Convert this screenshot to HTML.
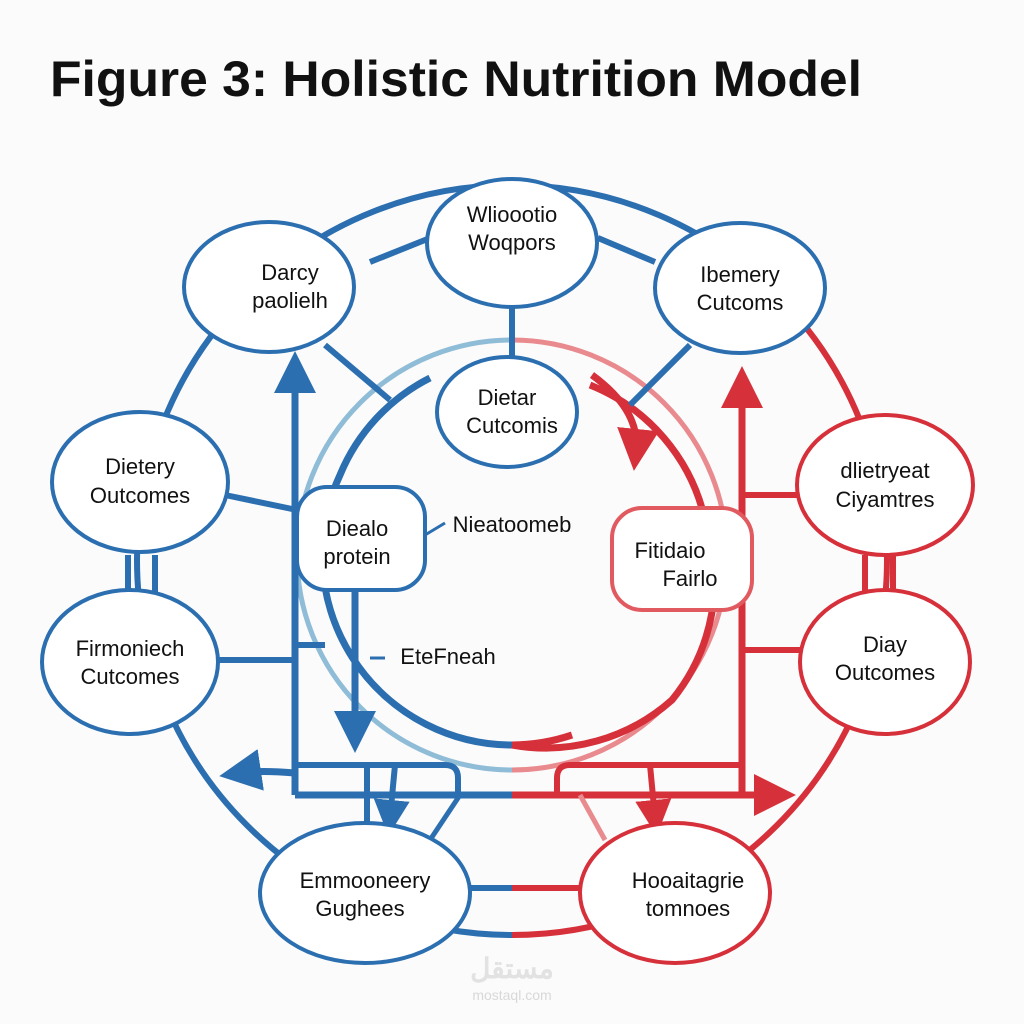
<!DOCTYPE html>
<html><head><meta charset="utf-8"><style>
html,body{margin:0;padding:0;background:#fbfbfb;}
svg{display:block;}
text{font-family:"Liberation Sans",sans-serif;fill:#111;}
</style></head><body>
<svg width="1024" height="1024" viewBox="0 0 1024 1024">
<rect width="1024" height="1024" fill="#fbfbfb"/>
<text x="50" y="96" font-size="50" font-weight="bold" textLength="812" lengthAdjust="spacingAndGlyphs">Figure 3: Holistic Nutrition Model</text>
<defs>
<marker id="ab" markerWidth="6" markerHeight="6" refX="3" refY="3" orient="auto" markerUnits="strokeWidth"><path d="M0,0 L6,3 L0,6z" fill="#2c6fb0"/></marker>
<marker id="ar" markerWidth="6" markerHeight="6" refX="3" refY="3" orient="auto" markerUnits="strokeWidth"><path d="M0,0 L6,3 L0,6z" fill="#d6303a"/></marker>
</defs>
<g fill="none" stroke-width="6">
<path d="M512,935 A375,375 0 0 1 137,560 A375,375 0 0 1 512,185 A375,375 0 0 1 782,300" stroke="#2c6fb0"/>
<path d="M782,300 A375,375 0 0 1 887,560 A375,375 0 0 1 512,935" stroke="#d6303a"/>
<path d="M512,770 A215,215 0 0 1 512,340" stroke="#8fbcd6" stroke-width="5"/>
<path d="M512,340 A215,215 0 0 1 512,770" stroke="#e98a8e" stroke-width="5"/>
<path d="M512,745 A190,190 0 0 1 340,475 A190,190 0 0 1 430,378" stroke="#2c6fb0" stroke-width="7"/>
<path d="M512,745 A190,190 0 0 0 572,735" stroke="#d6303a" stroke-width="7"/>
<path d="M512,745 A190,190 0 0 0 672,700 A190,190 0 0 0 705,520 A190,190 0 0 0 590,385" stroke="#d6303a" stroke-width="7"/>
<path d="M592,375 Q640,410 636,450" stroke="#d6303a" stroke-width="7" marker-end="url(#ar)"/>
<line x1="512" y1="305" x2="512" y2="358" stroke="#2c6fb0"/>
<line x1="325" y1="345" x2="390" y2="400" stroke="#2c6fb0"/>
<line x1="690" y1="345" x2="630" y2="405" stroke="#2c6fb0"/>
<line x1="370" y1="262" x2="430" y2="238" stroke="#2c6fb0"/>
<line x1="598" y1="238" x2="655" y2="262" stroke="#2c6fb0"/>
<line x1="225" y1="495" x2="297" y2="510" stroke="#2c6fb0"/>
<line x1="215" y1="660" x2="297" y2="660" stroke="#2c6fb0"/>
<line x1="297" y1="645" x2="325" y2="645" stroke="#2c6fb0"/>
<line x1="128" y1="555" x2="128" y2="595" stroke="#2c6fb0"/>
<line x1="155" y1="555" x2="155" y2="595" stroke="#2c6fb0"/>
<line x1="742" y1="495" x2="800" y2="495" stroke="#d6303a"/>
<line x1="742" y1="650" x2="800" y2="650" stroke="#d6303a"/>
<line x1="865" y1="555" x2="865" y2="595" stroke="#d6303a"/>
<line x1="893" y1="555" x2="893" y2="595" stroke="#d6303a"/>
<line x1="470" y1="888" x2="512" y2="888" stroke="#2c6fb0"/>
<line x1="512" y1="888" x2="582" y2="888" stroke="#d6303a"/>
<line x1="425" y1="535" x2="445" y2="523" stroke="#2c6fb0" stroke-width="3"/>
<line x1="370" y1="658" x2="385" y2="658" stroke="#2c6fb0" stroke-width="3"/>
<line x1="295" y1="795" x2="295" y2="372" stroke="#2c6fb0" stroke-width="7" marker-end="url(#ab)"/>
<line x1="742" y1="795" x2="742" y2="387" stroke="#d6303a" stroke-width="7" marker-end="url(#ar)"/>
<line x1="355" y1="590" x2="355" y2="732" stroke="#2c6fb0" stroke-width="7" marker-end="url(#ab)"/>
<line x1="295" y1="795" x2="512" y2="795" stroke="#2c6fb0" stroke-width="7"/>
<line x1="512" y1="795" x2="775" y2="795" stroke="#d6303a" stroke-width="7" marker-end="url(#ar)"/>
<path d="M295,765 H445 Q458,765 458,778 V795" stroke="#2c6fb0" stroke-width="6"/>
<path d="M742,765 H570 Q557,765 557,778 V795" stroke="#d6303a" stroke-width="6"/>
<path d="M295,773 Q260,770 240,773" stroke="#2c6fb0" stroke-width="7" marker-end="url(#ab)"/>
<line x1="367" y1="765" x2="367" y2="830" stroke="#2c6fb0" stroke-width="6"/>
<line x1="395" y1="765" x2="390" y2="818" stroke="#2c6fb0" stroke-width="6" marker-end="url(#ab)"/>
<line x1="650" y1="765" x2="655" y2="818" stroke="#d6303a" stroke-width="6" marker-end="url(#ar)"/>
<line x1="430" y1="840" x2="460" y2="795" stroke="#2c6fb0" stroke-width="5"/>
<line x1="605" y1="840" x2="580" y2="795" stroke="#e98a8e" stroke-width="5"/>
</g>
<g stroke-width="4" fill="#fff">
<ellipse cx="512" cy="243" rx="85" ry="64" stroke="#2c6fb0"/>
<ellipse cx="269" cy="287" rx="85" ry="65" stroke="#2c6fb0"/>
<ellipse cx="740" cy="288" rx="85" ry="65" stroke="#2c6fb0"/>
<ellipse cx="507" cy="412" rx="70" ry="55" stroke="#2c6fb0"/>
<ellipse cx="140" cy="482" rx="88" ry="70" stroke="#2c6fb0"/>
<ellipse cx="130" cy="662" rx="88" ry="72" stroke="#2c6fb0"/>
<ellipse cx="885" cy="485" rx="88" ry="70" stroke="#d6303a"/>
<ellipse cx="885" cy="662" rx="85" ry="72" stroke="#d6303a"/>
<ellipse cx="365" cy="893" rx="105" ry="70" stroke="#2c6fb0"/>
<ellipse cx="675" cy="893" rx="95" ry="70" stroke="#d6303a"/>
<rect x="297" y="487" width="128" height="103" rx="30" stroke="#2c6fb0"/>
<rect x="612" y="508" width="140" height="102" rx="30" stroke="#e05a60"/>
</g>
<g font-size="22" text-anchor="middle">
<text x="512" y="222">Wlioootio</text><text x="512" y="250">Woqpors</text>
<text x="290" y="280">Darcy</text><text x="290" y="308">paolielh</text>
<text x="740" y="282">Ibemery</text><text x="740" y="310">Cutcoms</text>
<text x="507" y="405">Dietar</text><text x="512" y="433">Cutcomis</text>
<text x="140" y="474">Dietery</text><text x="140" y="503">Outcomes</text>
<text x="130" y="656">Firmoniech</text><text x="130" y="684">Cutcomes</text>
<text x="885" y="478">dlietryeat</text><text x="885" y="507">Ciyamtres</text>
<text x="885" y="652">Diay</text><text x="885" y="680">Outcomes</text>
<text x="365" y="888">Emmooneery</text><text x="360" y="916">Gughees</text>
<text x="688" y="888">Hooaitagrie</text><text x="688" y="916">tomnoes</text>
<text x="357" y="536">Diealo</text><text x="357" y="564">protein</text>
<text x="670" y="558">Fitidaio</text><text x="690" y="586">Fairlo</text>
<text x="512" y="532">Nieatoomeb</text>
<text x="448" y="664">EteFneah</text>
</g>
<text x="512" y="978" font-size="28" font-weight="bold" text-anchor="middle" style="fill:#e2e2e2">مستقل</text>
<text x="512" y="1000" font-size="14" text-anchor="middle" style="fill:#d8d8d8">mostaql.com</text>
</svg>
</body></html>
